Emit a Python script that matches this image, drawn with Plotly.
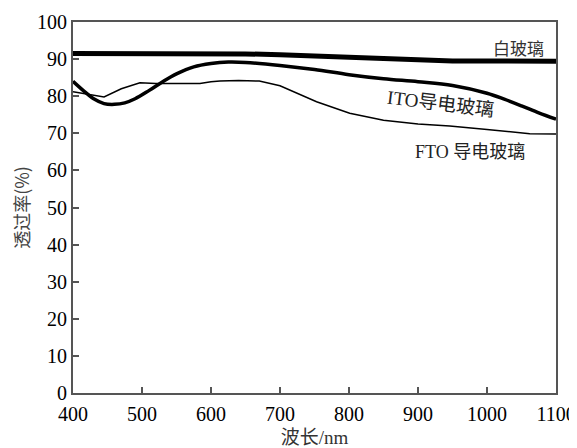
import plotly.graph_objects as go

white_wl = [400, 450, 500, 550, 600, 650, 700, 750, 800, 850, 900, 950, 1000, 1050, 1100]
white_T = [91.5, 91.5, 91.6, 91.6, 91.5, 91.4, 91.2, 90.9, 90.4, 90.0, 89.7, 89.5, 89.5, 89.4, 89.4]

ito_wl = [400, 415, 430, 445, 460, 475, 490, 510, 530, 550, 575, 600, 625, 650, 700,
          750, 800, 850, 900, 950, 1000, 1025, 1050, 1075, 1100]
ito_T = [84.0, 81.5, 79.3, 78.0, 77.8, 78.2, 79.3, 81.5, 83.9, 86.0, 87.9, 88.8, 89.2, 89.1, 88.3,
         87.2, 85.8, 84.7, 83.9, 82.9, 80.8, 79.2, 77.4, 75.5, 73.8]

fto_wl = [400, 420, 445, 470, 497, 520, 550, 584, 600, 613, 640, 670, 700, 753, 801,
          850, 900, 946, 1000, 1062, 1100]
fto_T = [81.2, 80.5, 79.8, 82.0, 83.6, 83.4, 83.4, 83.4, 83.9, 84.1, 84.2, 84.1, 82.8, 78.5, 75.4,
         73.5, 72.5, 72.0, 71.0, 69.9, 69.8]

x_ticks = [400, 500, 600, 700, 800, 900, 1000, 1100]
y_ticks = [0, 10, 20, 30, 40, 50, 60, 70, 80, 90, 100]

labels = ["白玻璃", "ITO导电玻璃", "FTO 导电玻璃"]

fig = go.Figure()
fig.add_trace(go.Scatter(x=white_wl, y=white_T, mode="lines",
                         line=dict(color="black", width=5), name=labels[0]))
fig.add_trace(go.Scatter(x=ito_wl, y=ito_T, mode="lines",
                         line=dict(color="black", width=3.5, shape="spline"), name=labels[1]))
fig.add_trace(go.Scatter(x=fto_wl, y=fto_T, mode="lines",
                         line=dict(color="black", width=1.5), name=labels[2]))

font_fam = "Liberation Serif, Noto Sans CJK SC, serif"
fig.add_annotation(x=1046, y=93, text=labels[0], showarrow=False,
                   font=dict(family="Noto Sans CJK SC", size=17, color="#333"))
fig.add_annotation(x=932, y=78, text=labels[1], showarrow=False, textangle=7,
                   font=dict(family=font_fam, size=19, color="#222"))
fig.add_annotation(x=975, y=65, text=labels[2], showarrow=False,
                   font=dict(family=font_fam, size=18, color="#222"))

axis_common = dict(showline=True, linecolor="#555", linewidth=2, mirror=True,
                   ticks="inside", ticklen=6, tickwidth=1.5, tickcolor="#555",
                   showgrid=False, zeroline=False, automargin=False,
                   tickfont=dict(family="Liberation Serif", size=20, color="black"))

fig.update_xaxes(range=[400, 1100], tickvals=x_ticks, ticklabelstandoff=2,
                 title=dict(text="波长/nm", font=dict(family=font_fam, size=19, color="#333"), standoff=8),
                 **axis_common)
fig.update_yaxes(range=[0, 100], tickvals=y_ticks,
                 title=dict(text="透过率(%)", font=dict(family="Noto Sans CJK SC", size=18, color="#444"), standoff=6),
                 **axis_common)

# page body adds an 8px offset; compensate so the plot area lands at the reference position
fig.update_layout(width=569, height=440, margin=dict(l=65, r=21, t=14, b=55),
                  plot_bgcolor="white", paper_bgcolor="white", showlegend=False)

fig.write_html("out.html")
